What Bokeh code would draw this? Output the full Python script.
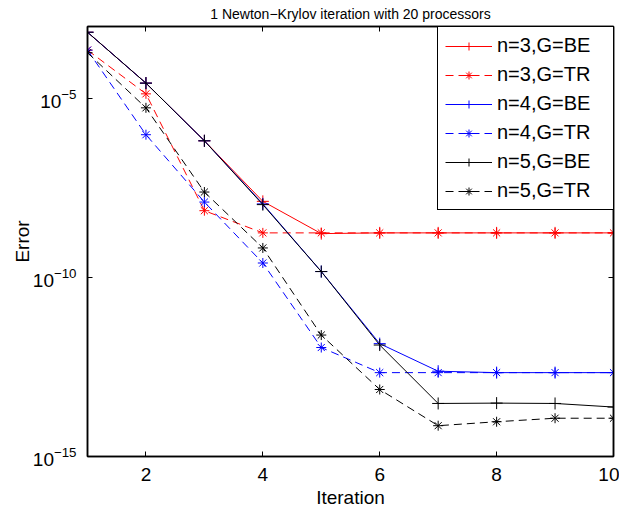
from bokeh.plotting import figure
from bokeh.models import LogAxis, LinearAxis, FixedTicker, Range1d, Legend, CustomJSTickFormatter
from bokeh.embed import file_html
from bokeh.resources import INLINE

iterations = [1, 2, 3, 4, 5, 6, 7, 8, 9, 10]

n3_BE = [6.92e-4, 2.63e-5, 6.46e-7, 1.32e-8, 1.66e-9, 1.74e-9, 1.74e-9, 1.74e-9, 1.74e-9, 1.74e-9]
n3_TR = [2.19e-4, 1.32e-5, 7.24e-9, 1.74e-9, 1.74e-9, 1.74e-9, 1.74e-9, 1.74e-9, 1.74e-9, 1.74e-9]
n4_BE = [6.92e-4, 2.63e-5, 6.46e-7, 1.12e-8, 1.45e-10, 1.41e-12, 2.40e-13, 2.19e-13, 2.19e-13, 2.19e-13]
n4_TR = [2.19e-4, 9.55e-7, 1.26e-8, 2.51e-10, 1.10e-12, 2.19e-13, 2.19e-13, 2.19e-13, 2.19e-13, 2.19e-13]
n5_BE = [6.92e-4, 2.63e-5, 6.46e-7, 1.07e-8, 1.45e-10, 1.29e-12, 3.02e-14, 3.09e-14, 3.02e-14, 2.40e-14]
n5_TR = [1.86e-4, 5.37e-6, 2.40e-8, 6.61e-10, 2.45e-12, 7.41e-14, 7.24e-15, 9.33e-15, 1.17e-14, 1.17e-14]

labels = ["n=3,G=BE", "n=3,G=TR", "n=4,G=BE", "n=4,G=TR", "n=5,G=BE", "n=5,G=TR"]
series = [n3_BE, n3_TR, n4_BE, n4_TR, n5_BE, n5_TR]
colors = ["#ff0000", "#ff0000", "#0000ff", "#0000ff", "#000000", "#000000"]

x_ticks = [2, 4, 6, 8, 10]
y_ticks = [1e-15, 1e-10, 1e-5]

FONT = "Liberation Sans"

p = figure(frame_width=526, frame_height=430, output_backend="svg", toolbar_location=None,
           y_axis_type="log", x_range=Range1d(1, 10), y_range=Range1d(1e-15, 1e-3),
           min_border_left=87, min_border_right=6, min_border_top=26, min_border_bottom=51)
p.title.text = "1 Newton\u2212Krylov iteration with 20 processors"
p.title.text_font = FONT
p.title.text_font_size = "14px"
p.title.text_font_style = "normal"
p.title.text_color = "black"
p.title.align = "center"
p.title.standoff = 2
p.title.offset = 0
p.grid.visible = False
p.outline_line_color = "black"
p.outline_line_width = 1.5
p.background_fill_color = "white"
p.border_fill_color = "white"

for ax in (p.xaxis[0], p.yaxis[0]):
    ax.major_tick_in = 5
    ax.major_tick_out = 0
    ax.minor_tick_line_color = None
    ax.axis_line_width = 1.5
    ax.major_tick_line_width = 1
    ax.major_label_text_font = FONT
    ax.major_label_text_font_size = "19px"
    ax.major_label_text_color = "black"
    ax.axis_label_text_font = FONT
    ax.axis_label_text_font_size = "19px"
    ax.axis_label_text_font_style = "normal"
    ax.axis_label_text_color = "black"

p.xaxis[0].ticker = FixedTicker(ticks=x_ticks)
p.yaxis[0].ticker = FixedTicker(ticks=y_ticks)
p.xaxis[0].axis_label = "Iteration"
p.yaxis[0].axis_label = "Error"
p.xaxis[0].major_label_standoff = 11
p.xaxis[0].axis_label_standoff = 3
p.yaxis[0].major_label_standoff = 11
p.yaxis[0].axis_label_standoff = -3

top_axis = LinearAxis(ticker=FixedTicker(ticks=x_ticks), major_tick_in=5, major_tick_out=0,
                      minor_tick_line_color=None, formatter=CustomJSTickFormatter(code="return ' '"),
                      major_label_standoff=0, major_label_text_font_size="1px",
                      axis_line_width=1.5)
right_axis = LogAxis(ticker=FixedTicker(ticks=y_ticks), major_tick_in=5, major_tick_out=0,
                     minor_tick_line_color=None, formatter=CustomJSTickFormatter(code="return ' '"),
                     major_label_standoff=0, major_label_text_font_size="1px",
                     axis_line_width=1.5)
p.add_layout(top_axis, "above")
p.add_layout(right_axis, "right")

items = []
for lab, vals, col in zip(labels, series, colors):
    dashed = lab.endswith("TR")
    r1 = p.line(iterations, vals, line_color=col, line_width=1,
                line_dash="8 5" if dashed else "solid")
    if dashed:
        r2 = p.scatter(iterations, vals, marker="asterisk", size=10, line_color=col, line_width=1)
    else:
        r2 = p.scatter(iterations, vals, marker="cross", size=12, line_color=col, line_width=1)
    items.append((lab, [r1, r2]))

legend = Legend(items=items, location=(350, 246))
legend.label_text_font = FONT
legend.label_text_font_size = "20px"
legend.label_text_color = "black"
legend.glyph_width = 47
legend.glyph_height = 20
legend.label_height = 20
legend.label_width = 110
legend.label_standoff = 5
legend.spacing = 6
legend.padding = 7
legend.margin = 0
legend.border_line_color = "black"
legend.border_line_width = 1
legend.border_line_alpha = 1
legend.background_fill_color = "white"
legend.background_fill_alpha = 1
p.add_layout(legend)

open("out.html", "w").write(file_html(p, INLINE))
